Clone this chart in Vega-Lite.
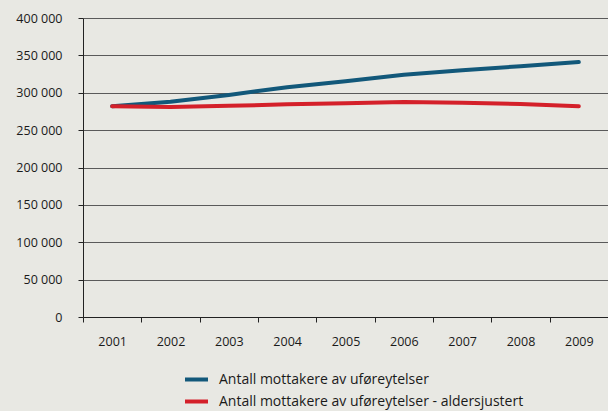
{
  "$schema": "https://vega.github.io/schema/vega-lite/v6.json",
  "width": 525,
  "height": 299,
  "autosize": {"type": "none"},
  "padding": {"left": 83, "top": 18, "right": 0, "bottom": 94},
  "background": "#e8e8e3",
  "config": {
    "view": {"stroke": null},
    "font": "Open Sans",
    "axis": {"labelFont": "Open Sans", "labelFontSize": 12.5, "labelColor": "#1a1a1a"}
  },
  "data": {
    "values": [
      {"year": "2001", "series": "Antall mottakere av uføreytelser", "value": 282000},
      {"year": "2002", "series": "Antall mottakere av uføreytelser", "value": 288000},
      {"year": "2003", "series": "Antall mottakere av uføreytelser", "value": 297000},
      {"year": "2004", "series": "Antall mottakere av uføreytelser", "value": 307500},
      {"year": "2005", "series": "Antall mottakere av uføreytelser", "value": 315500},
      {"year": "2006", "series": "Antall mottakere av uføreytelser", "value": 324000},
      {"year": "2007", "series": "Antall mottakere av uføreytelser", "value": 330000},
      {"year": "2008", "series": "Antall mottakere av uføreytelser", "value": 335500},
      {"year": "2009", "series": "Antall mottakere av uføreytelser", "value": 341000},
      {"year": "2001", "series": "Antall mottakere av uføreytelser - aldersjustert", "value": 282000},
      {"year": "2002", "series": "Antall mottakere av uføreytelser - aldersjustert", "value": 281000},
      {"year": "2003", "series": "Antall mottakere av uføreytelser - aldersjustert", "value": 282500},
      {"year": "2004", "series": "Antall mottakere av uføreytelser - aldersjustert", "value": 284500},
      {"year": "2005", "series": "Antall mottakere av uføreytelser - aldersjustert", "value": 286000},
      {"year": "2006", "series": "Antall mottakere av uføreytelser - aldersjustert", "value": 287500},
      {"year": "2007", "series": "Antall mottakere av uføreytelser - aldersjustert", "value": 286500},
      {"year": "2008", "series": "Antall mottakere av uføreytelser - aldersjustert", "value": 285000},
      {"year": "2009", "series": "Antall mottakere av uføreytelser - aldersjustert", "value": 282000}
    ]
  },
  "mark": {"type": "line", "strokeWidth": 4, "strokeCap": "round", "strokeJoin": "round"},
  "encoding": {
    "x": {
      "field": "year", "type": "ordinal",
      "scale": {"type": "band", "paddingInner": 0, "paddingOuter": 0},
      "axis": {
        "title": null, "labelAngle": 0, "tickBand": "extent", "tickSize": 5,
        "tickColor": "#222", "domainColor": "#222", "labelPadding": 13, "grid": false
      }
    },
    "y": {
      "field": "value", "type": "quantitative",
      "scale": {"domain": [0, 400000], "nice": false},
      "axis": {
        "title": null, "values": [0, 50000, 100000, 150000, 200000, 250000, 300000, 350000, 400000],
        "labelExpr": "replace(format(datum.value, ','), ',', ' ')",
        "tickSize": 5, "tickColor": "#222", "domainColor": "#222",
        "grid": true, "gridColor": "#5a5a5a", "gridWidth": 1, "labelPadding": 16
      }
    },
    "color": {
      "field": "series", "type": "nominal",
      "scale": {"range": ["#12587a", "#d4202a"]},
      "legend": {
        "title": null, "orient": "none", "legendX": 100, "legendY": 348,
        "direction": "vertical", "symbolType": "stroke", "symbolSize": 529,
        "symbolStrokeWidth": 4, "labelFontSize": 14, "labelFont": "Open Sans",
        "labelColor": "#1a1a1a", "labelOffset": 9, "rowPadding": 0, "labelLimit": 500
      }
    }
  }
}
